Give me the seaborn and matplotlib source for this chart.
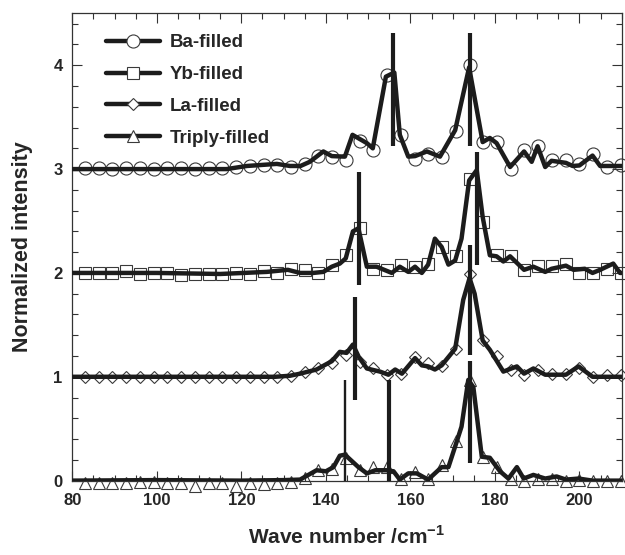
import matplotlib
matplotlib.use("Agg")
import matplotlib.pyplot as plt
import seaborn as sns
from matplotlib.lines import Line2D
from matplotlib.ticker import MultipleLocator

# marker grid (wave numbers, cm-1), shared by all four spectra
wn = [83.0, 86.25, 89.5, 92.75, 96.0, 99.25, 102.5, 105.75, 109.0, 112.25,
      115.5, 118.75, 122.0, 125.25, 128.5, 131.75, 135.0, 138.25, 141.5, 144.75,
      148.0, 151.25, 154.5, 157.75, 161.0, 164.25, 167.5, 170.75, 174.0, 177.25,
      180.5, 183.75, 187.0, 190.25, 193.5, 196.75, 200.0, 203.25, 206.5, 209.75]

# measured points (offset spectra)
ba_pts = [3.01, 3.01, 3.00, 3.01, 3.01, 3.00, 3.01, 3.01, 3.00, 3.01,
          3.01, 3.02, 3.03, 3.04, 3.04, 3.02, 3.05, 3.13, 3.12, 3.09,
          3.27, 3.18, 3.91, 3.33, 3.10, 3.15, 3.12, 3.37, 4.00, 3.26,
          3.26, 3.00, 3.18, 3.22, 3.09, 3.09, 3.05, 3.15, 3.02, 3.04]
yb_pts = [2.00, 2.00, 2.00, 2.02, 1.99, 2.00, 2.00, 1.98, 1.99, 1.99,
          1.99, 2.00, 1.99, 2.02, 2.00, 2.04, 2.03, 2.00, 2.08, 2.17,
          2.43, 2.04, 2.03, 2.08, 2.06, 2.09, 2.25, 2.16, 2.90, 2.49,
          2.17, 2.16, 2.03, 2.07, 2.07, 2.09, 2.00, 2.00, 2.04, 2.00]
la_pts = [1.00, 1.00, 1.00, 1.00, 1.00, 1.00, 1.00, 1.00, 1.00, 1.00,
          1.00, 1.00, 1.00, 1.00, 1.00, 1.01, 1.05, 1.08, 1.13, 1.21,
          1.145, 1.08, 1.02, 1.03, 1.19, 1.13, 1.10, 1.27, 1.99, 1.35,
          1.20, 1.065, 1.02, 1.07, 1.03, 1.03, 1.08, 1.00, 1.02, 1.02]
tr_pts = [-0.02, -0.02, -0.02, -0.02, -0.01, -0.01, -0.02, -0.02, -0.05, -0.02,
          -0.02, -0.05, -0.02, -0.03, -0.02, -0.01, 0.03, 0.10, 0.11, 0.22,
          0.10, 0.13, 0.13, 0.02, 0.08, 0.02, 0.15, 0.38, 0.97, 0.225,
          0.13, 0.02, 0.00, 0.02, 0.02, 0.00, 0.01, 0.00, 0.00, 0.00]

# calculated curves (thick lines)
ba_line_x = [80, 116.5, 121.3, 128.4, 131.5, 134.0, 136.2, 139.4, 141.4, 144.5,
             146.3, 149.7, 151.1, 154.2, 156.2, 157.5, 159.5, 161.1, 163.9, 167.0,
             170.6, 173.9, 177.1, 178.8, 180.4, 183.6, 186.9, 188.7, 190.1, 191.9,
             193.4, 196.8, 198.4, 200.0, 203.1, 204.9, 210]
ba_line_y = [3.0, 3.0, 3.03, 3.05, 3.03, 3.03, 3.07, 3.17, 3.125, 3.12,
             3.33, 3.25, 3.20, 3.89, 3.93, 3.33, 3.12, 3.125, 3.17, 3.12,
             3.375, 3.98, 3.26, 3.30, 3.25, 3.02, 3.17, 3.07, 3.22, 3.02,
             3.08, 3.06, 3.03, 3.035, 3.13, 3.03, 3.03]

yb_line_x = [80, 100, 115, 126, 131, 133.9, 137.0, 139.4, 141.4, 143.3,
             144.7, 146.4, 147.7, 149.7, 152.0, 155.6, 157.5, 159.5, 161.1, 162.7,
             164.2, 165.8, 167.4, 169.0, 170.6, 172.1, 173.9, 175.7, 177.1, 178.8,
             180.4, 182.0, 183.6, 186.9, 189.1, 191.9, 193.4, 196.8, 198.6, 201.3,
             203.1, 204.9, 208.0, 209.6, 210]
yb_line_y = [2.0, 2.0, 1.99, 2.01, 2.03, 2.00, 2.00, 2.01, 2.06, 2.09,
             2.14, 2.40, 2.43, 2.06, 2.06, 2.00, 2.06, 2.01, 2.06, 2.00,
             2.08, 2.33, 2.25, 2.08, 2.12, 2.33, 2.89, 2.99, 2.54, 2.17,
             2.16, 2.11, 2.16, 2.03, 2.06, 2.01, 2.04, 2.07, 2.03, 2.04,
             2.00, 2.03, 2.09, 2.00, 2.00]

la_line_x = [80, 128, 131.5, 133.9, 137.8, 141.4, 143.3, 144.9, 146.4, 147.8,
             149.7, 152.8, 154.8, 156.4, 158.0, 161.1, 162.7, 164.2, 165.8, 167.4,
             169.0, 170.6, 172.5, 174.0, 175.2, 177.1, 178.8, 182.0, 185.2, 186.9,
             189.1, 191.9, 196.8, 199.8, 203.1, 210]
la_line_y = [1.0, 1.0, 1.01, 1.03, 1.07, 1.15, 1.24, 1.23, 1.31, 1.19,
             1.08, 1.05, 1.02, 1.07, 1.03, 1.18, 1.11, 1.10, 1.07, 1.11,
             1.19, 1.27, 1.74, 1.95, 1.80, 1.35, 1.26, 1.05, 1.10, 1.03,
             1.08, 1.02, 1.02, 1.10, 1.00, 1.00]

tr_line_x = [80, 100, 120, 130, 133.9, 137.8, 140.0, 141.8, 143.3, 144.5,
             147.7, 149.7, 151.7, 154.3, 156.0, 157.5, 159.5, 161.5, 164.2, 167.4,
             169.0, 170.6, 172.1, 173.7, 174.9, 176.9, 178.8, 181.2, 183.2, 185.2,
             186.8, 189.1, 191.9, 194.6, 196.8, 199.8, 203.1, 210]
tr_line_y = [0.0, 0.005, 0.0, 0.005, 0.01, 0.10, 0.09, 0.13, 0.24, 0.25,
             0.13, 0.07, 0.10, 0.10, 0.09, 0.01, 0.07, 0.07, 0.01, 0.13,
             0.13, 0.33, 0.52, 0.97, 0.90, 0.23, 0.22, 0.09, 0.02, 0.13,
             0.02, 0.055, 0.02, 0.04, 0.01, 0.02, 0.0, 0.0]

# vertical marker bars: position, bottom, top
ba_bar_x, ba_bar_lo, ba_bar_hi = [156.0, 174.1], [3.22, 3.22], [4.31, 4.31]
yb_bar_x, yb_bar_lo, yb_bar_hi = [147.8, 175.8], [1.88, 2.08], [2.97, 3.16]
la_bar_x, la_bar_lo, la_bar_hi = [146.9, 174.1], [0.78, 1.21], [1.77, 2.27]
tr_bar_x, tr_bar_lo, tr_bar_hi = [155.0, 174.1], [0.0, 0.17], [0.97, 1.15]
tr_thin_x, tr_thin_lo, tr_thin_hi = [144.6], [0.0], [0.97]

labels = ["Ba-filled", "Yb-filled", "La-filled", "Triply-filled"]

sns.set_style("ticks")
plt.rcParams["font.family"] = ["Liberation Sans", "DejaVu Sans"]
plt.rcParams["font.weight"] = "bold"
plt.rcParams["mathtext.fontset"] = "custom"
plt.rcParams["mathtext.rm"] = "Liberation Sans:bold"
plt.rcParams["mathtext.bf"] = "Liberation Sans:bold"

LINE = "#1c1c1c"
EDGE = "#3a3a3a"
LW = 3.2

fig = plt.figure(figsize=(6.25, 5.55), dpi=100)
ax = fig.add_axes([0.1157, 0.134, 0.879, 0.842])

series = [
    (ba_pts, ba_line_x, ba_line_y, "o", 9.4),
    (yb_pts, yb_line_x, yb_line_y, "s", 8.4),
    (la_pts, la_line_x, la_line_y, "D", 6.6),
    (tr_pts, tr_line_x, tr_line_y, "^", 8.0),
]
for pts, lx, ly, mk, ms in series:
    sns.lineplot(x=wn, y=pts, ax=ax, estimator=None, sort=False, linestyle="",
                 marker=mk, markersize=ms, markerfacecolor="none",
                 markeredgecolor=EDGE, markeredgewidth=0.8, clip_on=False, zorder=2)
    sns.lineplot(x=lx, y=ly, ax=ax, estimator=None, sort=False,
                 color=LINE, linewidth=LW, zorder=3)

for bx, lo, hi in [(ba_bar_x, ba_bar_lo, ba_bar_hi), (yb_bar_x, yb_bar_lo, yb_bar_hi),
                   (la_bar_x, la_bar_lo, la_bar_hi), (tr_bar_x, tr_bar_lo, tr_bar_hi)]:
    ax.vlines(bx, lo, hi, color=LINE, linewidth=3.0, zorder=4)
ax.vlines(tr_thin_x, tr_thin_lo, tr_thin_hi, color=LINE, linewidth=1.7, zorder=4)

ax.set_xlim(80, 210)
ax.set_ylim(0, 4.5)
ax.xaxis.set_major_locator(MultipleLocator(20))
ax.xaxis.set_minor_locator(MultipleLocator(5))
ax.yaxis.set_major_locator(MultipleLocator(1))
ax.yaxis.set_minor_locator(MultipleLocator(0.2))
ax.tick_params(which="both", direction="in", top=True, right=True,
               width=0.8, color="#333333", labelsize=12)
ax.tick_params(which="major", length=7)
ax.tick_params(which="minor", length=4)
ax.tick_params(axis="x", which="major", pad=9)
ax.tick_params(axis="y", which="major", pad=7)
for sp in ax.spines.values():
    sp.set_linewidth(0.9)
    sp.set_color("#333333")
for t in ax.get_xticklabels() + ax.get_yticklabels():
    t.set_fontweight("bold")

ax.set_xlabel("Wave number /cm$^{-1}$", fontsize=15, fontweight="bold", labelpad=12)
ax.set_ylabel("Normalized intensity", fontsize=15.5, fontweight="bold", labelpad=15)

handles = [Line2D([], [], color=LINE, lw=LW, marker=mk, markersize=ms,
                  markerfacecolor="white", markeredgecolor=EDGE, markeredgewidth=0.8)
           for _, _, _, mk, ms in series]
ax.legend(handles=handles, labels=labels, loc="upper left", bbox_to_anchor=(0.061, 0.955),
          frameon=False, handlelength=2.9, handletextpad=0.5, labelspacing=0.78,
          borderaxespad=0, borderpad=0, numpoints=1,
          prop={"size": 13.5, "weight": "bold"})

fig.savefig("out.png", dpi=100)
